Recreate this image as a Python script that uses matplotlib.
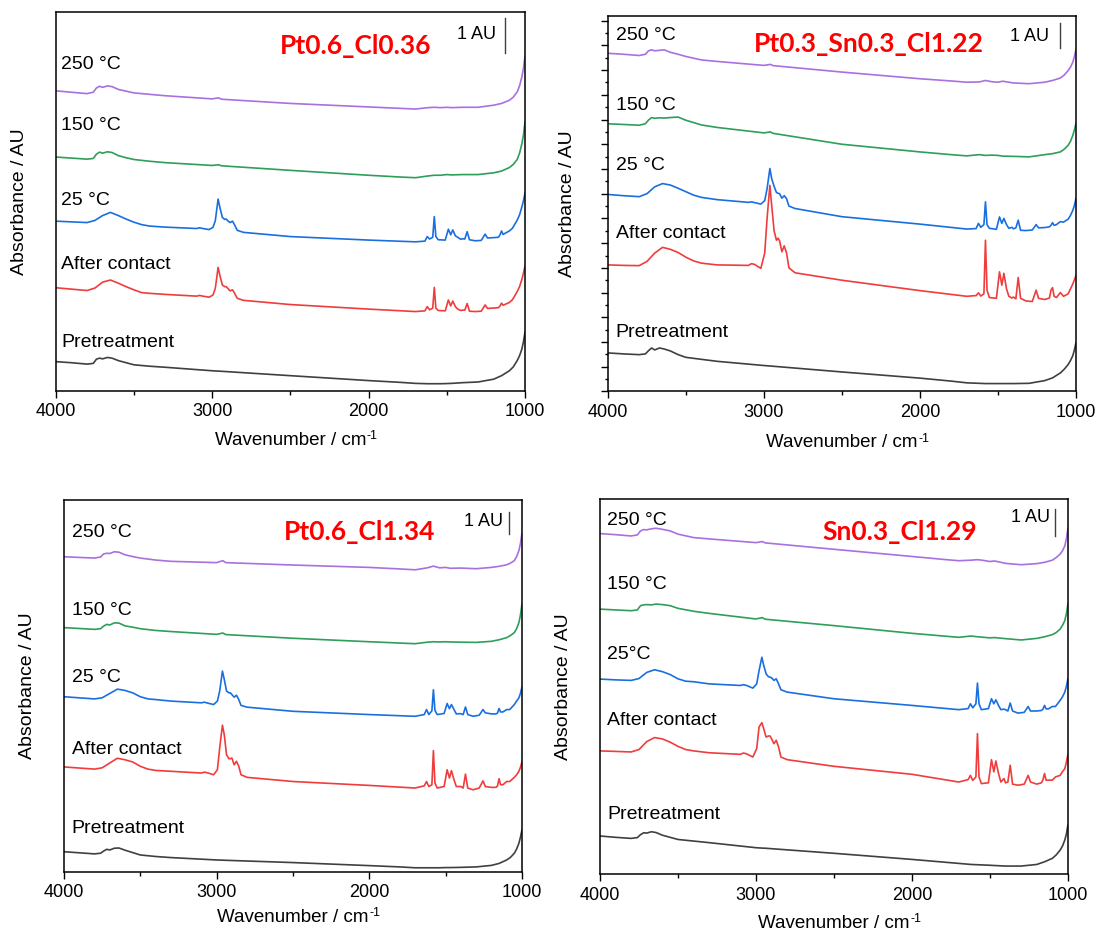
import matplotlib
matplotlib.use("Agg")
import matplotlib.pyplot as plt
from matplotlib.ticker import MultipleLocator

plt.rcParams["font.family"] = ["Liberation Sans", "DejaVu Sans"]

# wavenumber grids (cm-1)
wn_flat = [4000, 3900, 3800, 3760, 3740, 3720, 3700, 3670, 3640, 3600, 3550, 3500, 3400, 3300,
           3000, 2960, 2940, 2500, 2000, 1800, 1700, 1620, 1580, 1540, 1500, 1470, 1400, 1300,
           1200, 1150, 1100, 1075, 1050, 1035, 1020, 1010, 1000]
wn_ads = [4000, 3900, 3800, 3750, 3700, 3650, 3600, 3550, 3500, 3450, 3400, 3300, 3100, 3080,
          3060, 3020, 2995, 2980, 2962, 2950, 2935, 2920, 2910, 2900, 2885, 2870, 2855, 2840,
          2800, 2500, 2000, 1700, 1640, 1625, 1610, 1590, 1580, 1570, 1555, 1510, 1490, 1475,
          1462, 1445, 1430, 1410, 1400, 1385, 1370, 1355, 1320, 1280, 1255, 1240, 1200, 1170,
          1160, 1150, 1140, 1125, 1100, 1080, 1050, 1035, 1020, 1010, 1000]

# ---- Pt0.6_Cl0.36 ----
p1_pre = [.83, .80, .76, .78, .90, .93, .91, .95, .93, .86, .80, .74, .70, .67, .57, .56, .555, .43,
          .29, .24, .21, .20, .20, .20, .205, .21, .23, .25, .33, .43, .57, .68, .86, 1.0, 1.19, 1.40, 1.67]
p1_150 = [6.67, 6.64, 6.61, 6.63, 6.75, 6.81, 6.78, 6.82, 6.80, 6.71, 6.65, 6.60, 6.55, 6.51, 6.43,
          6.45, 6.42, 6.29, 6.15, 6.10, 6.08, 6.13, 6.15, 6.15, 6.17, 6.16, 6.17, 6.17, 6.22, 6.27,
          6.37, 6.46, 6.60, 6.78, 7.05, 7.30, 7.67]
p1_250 = [8.56, 8.52, 8.48, 8.52, 8.64, 8.69, 8.66, 8.70, 8.68, 8.60, 8.55, 8.50, 8.46, 8.42, 8.33,
          8.36, 8.32, 8.20, 8.10, 8.06, 8.04, 8.08, 8.09, 8.08, 8.09, 8.08, 8.09, 8.09, 8.15, 8.20,
          8.29, 8.38, 8.53, 8.70, 8.96, 9.20, 9.55]
p1_25 = [4.84, 4.82, 4.80, 4.86, 5.00, 5.09, 5.00, 4.90, 4.81, 4.74, 4.70, 4.67, 4.63, 4.65, 4.63,
         4.60, 4.66, 4.85, 5.47, 5.22, 4.95, 4.89, 4.90, 4.85, 4.80, 4.84, 4.72, 4.58, 4.52, 4.40,
         4.30, 4.25, 4.27, 4.40, 4.33, 4.38, 4.97, 4.40, 4.31, 4.30, 4.61, 4.45, 4.59, 4.42, 4.38,
         4.32, 4.34, 4.33, 4.54, 4.31, 4.28, 4.29, 4.47, 4.36, 4.37, 4.38, 4.45, 4.56, 4.46, 4.50,
         4.56, 4.64, 4.87, 5.02, 5.25, 5.42, 5.64]
p1_ac = [2.94, 2.90, 2.86, 2.93, 3.10, 3.16, 3.07, 2.97, 2.88, 2.80, 2.78, 2.75, 2.70, 2.72, 2.70,
         2.67, 2.73, 2.92, 3.52, 3.28, 3.02, 2.97, 2.97, 2.92, 2.85, 2.88, 2.77, 2.64, 2.58, 2.46,
         2.33, 2.26, 2.28, 2.40, 2.31, 2.36, 2.95, 2.36, 2.29, 2.28, 2.59, 2.42, 2.56, 2.40, 2.33,
         2.29, 2.30, 2.30, 2.49, 2.27, 2.26, 2.27, 2.45, 2.35, 2.36, 2.37, 2.42, 2.50, 2.44, 2.47,
         2.52, 2.60, 2.83, 2.97, 3.18, 3.36, 3.56]

# ---- Pt0.3_Sn0.3_Cl1.22 ----
p2_pre = [1.56, 1.52, 1.49, 1.52, 1.65, 1.76, 1.68, 1.76, 1.72, 1.64, 1.49, 1.38, 1.30, 1.22, 1.05,
          1.03, 1.02, .79, .54, .42, .35, .33, .32, .32, .32, .32, .32, .33, .44, .55, .75, .90,
          1.09, 1.25, 1.45, 1.68, 1.96]
p2_150 = [10.83, 10.80, 10.77, 10.83, 10.98, 11.08, 11.05, 11.07, 11.06, 11.08, 11.10, 10.97, 10.78,
          10.68, 10.46, 10.50, 10.44, 10.00, 9.69, 9.58, 9.53, 9.58, 9.55, 9.56, 9.55, 9.52, 9.51,
          9.49, 9.58, 9.62, 9.69, 9.80, 9.96, 10.12, 10.36, 10.58, 10.83]
p2_250 = [13.68, 13.64, 13.59, 13.64, 13.78, 13.82, 13.78, 13.80, 13.82, 13.72, 13.64, 13.55, 13.41,
          13.35, 13.19, 13.23, 13.18, 12.92, 12.65, 12.56, 12.51, 12.52, 12.58, 12.53, 12.51, 12.55,
          12.48, 12.45, 12.51, 12.58, 12.68, 12.80, 12.98, 13.12, 13.32, 13.55, 13.82]
p2_25 = [7.97, 7.92, 7.88, 8.00, 8.28, 8.41, 8.35, 8.22, 8.08, 7.94, 7.85, 7.76, 7.65, 7.67, 7.64,
         7.58, 7.72, 8.20, 9.02, 8.60, 8.30, 8.05, 8.02, 8.00, 7.82, 7.92, 7.80, 7.50, 7.40, 7.07,
         6.77, 6.57, 6.59, 6.80, 6.64, 6.75, 7.67, 6.75, 6.60, 6.56, 7.06, 6.80, 7.00, 6.75, 6.60,
         6.64, 6.58, 6.62, 6.93, 6.52, 6.51, 6.53, 6.75, 6.62, 6.63, 6.66, 6.72, 6.83, 6.72, 6.75,
         6.87, 6.85, 6.97, 7.12, 7.33, 7.52, 7.80]
p2_ac = [5.12, 5.10, 5.09, 5.26, 5.60, 5.83, 5.75, 5.62, 5.43, 5.28, 5.19, 5.12, 5.10, 5.17, 5.14,
         4.98, 5.60, 7.00, 8.34, 7.50, 6.50, 6.12, 6.20, 6.10, 5.65, 5.89, 5.60, 5.00, 4.80, 4.50,
         4.08, 3.85, 3.88, 3.99, 3.86, 3.95, 6.12, 4.10, 3.80, 3.77, 4.84, 4.30, 4.78, 4.15, 3.85,
         3.78, 3.82, 3.75, 4.61, 3.77, 3.66, 3.64, 4.10, 3.77, 3.72, 3.78, 4.10, 4.20, 3.85, 3.80,
         4.00, 3.85, 3.95, 4.15, 4.35, 4.52, 4.68]

# ---- Pt0.6_Cl1.34 ----
p3_pre = [.92, .87, .82, .85, .95, 1.03, 1.00, 1.08, 1.09, .99, .88, .77, .70, .65, .54, .53, .525,
          .42, .28, .22, .18, .18, .18, .18, .19, .19, .20, .22, .29, .38, .54, .66, .85, 1.04, 1.31,
          1.58, 1.92]
p3_150 = [11.23, 11.19, 11.15, 11.18, 11.30, 11.38, 11.35, 11.45, 11.44, 11.31, 11.25, 11.18, 11.10,
          11.05, 10.92, 10.98, 10.91, 10.74, 10.58, 10.52, 10.49, 10.56, 10.58, 10.57, 10.58, 10.57,
          10.56, 10.55, 10.60, 10.67, 10.77, 10.87, 11.00, 11.18, 11.46, 11.80, 12.31]
p3_250 = [14.49, 14.46, 14.43, 14.48, 14.62, 14.65, 14.64, 14.72, 14.70, 14.58, 14.50, 14.43, 14.34,
          14.28, 14.22, 14.31, 14.22, 14.11, 14.00, 13.93, 13.89, 13.98, 14.06, 13.98, 14.00, 13.96,
          13.97, 13.94, 14.00, 14.05, 14.12, 14.20, 14.31, 14.50, 14.77, 15.10, 15.57]
p3_25 = [8.05, 8.00, 7.95, 8.00, 8.20, 8.40, 8.34, 8.23, 8.05, 7.95, 7.92, 7.85, 7.77, 7.80, 7.76,
         7.69, 7.85, 8.31, 9.23, 8.85, 8.31, 8.23, 8.23, 8.15, 8.03, 8.12, 7.92, 7.65, 7.57, 7.38,
         7.23, 7.15, 7.23, 7.46, 7.23, 7.40, 8.37, 7.42, 7.23, 7.28, 7.74, 7.50, 7.69, 7.46, 7.26,
         7.27, 7.27, 7.23, 7.58, 7.23, 7.15, 7.20, 7.46, 7.31, 7.26, 7.26, 7.30, 7.51, 7.35, 7.35,
         7.46, 7.46, 7.69, 7.85, 8.00, 8.20, 8.49]
p3_ac = [4.82, 4.77, 4.72, 4.78, 5.00, 5.22, 5.15, 5.05, 4.85, 4.72, 4.66, 4.62, 4.54, 4.58, 4.55,
         4.46, 4.69, 5.69, 6.74, 6.31, 5.38, 5.20, 5.20, 5.23, 4.92, 5.08, 4.85, 4.46, 4.34, 4.15,
         3.97, 3.85, 3.95, 4.15, 3.92, 4.00, 5.57, 4.08, 3.85, 3.92, 4.69, 4.31, 4.65, 4.23, 3.92,
         3.92, 3.92, 3.85, 4.49, 3.85, 3.77, 3.85, 4.18, 3.92, 3.88, 3.88, 3.95, 4.28, 4.00, 4.00,
         4.15, 4.15, 4.34, 4.46, 4.62, 4.80, 5.05]

# ---- Sn0.3_Cl1.29 ----
p4_pre = [1.43, 1.38, 1.34, 1.37, 1.48, 1.55, 1.54, 1.59, 1.56, 1.46, 1.38, 1.30, 1.24, 1.18, .99,
          .975, .97, .78, .55, .45, .40, .36, .35, .34, .33, .32, .30, .30, .36, .46, .59, .72, .90,
          1.05, 1.28, 1.50, 1.84]
p4_150 = [9.96, 9.93, 9.90, 9.93, 10.09, 10.12, 10.13, 10.12, 10.15, 10.13, 10.09, 9.99, 9.88, 9.80,
          9.59, 9.64, 9.58, 9.34, 9.05, 8.95, 8.90, 8.95, 8.92, 8.90, 8.88, 8.89, 8.85, 8.80, 8.86,
          8.92, 9.00, 9.08, 9.21, 9.35, 9.53, 9.78, 10.15]
p4_250 = [12.80, 12.76, 12.71, 12.75, 12.90, 12.95, 12.94, 12.98, 13.00, 12.96, 12.90, 12.78, 12.65,
          12.60, 12.46, 12.50, 12.45, 12.21, 11.94, 11.83, 11.78, 11.80, 11.82, 11.79, 11.75, 11.77,
          11.68, 11.63, 11.67, 11.72, 11.80, 11.90, 12.03, 12.15, 12.34, 12.60, 13.00]
p4_25 = [7.33, 7.30, 7.28, 7.35, 7.58, 7.68, 7.61, 7.50, 7.34, 7.25, 7.23, 7.15, 7.09, 7.12, 7.09,
         6.99, 7.15, 7.65, 8.15, 7.84, 7.53, 7.42, 7.40, 7.38, 7.28, 7.34, 7.15, 6.93, 6.84, 6.59,
         6.34, 6.18, 6.22, 6.40, 6.25, 6.40, 7.18, 6.40, 6.18, 6.22, 6.59, 6.40, 6.55, 6.34, 6.18,
         6.20, 6.18, 6.13, 6.43, 6.13, 6.05, 6.08, 6.30, 6.13, 6.13, 6.15, 6.20, 6.34, 6.21, 6.21,
         6.30, 6.30, 6.53, 6.66, 6.84, 7.05, 7.34]
p4_ac = [4.63, 4.61, 4.59, 4.68, 4.98, 5.13, 5.08, 4.96, 4.80, 4.68, 4.63, 4.56, 4.50, 4.55, 4.52,
         4.40, 4.72, 5.53, 5.69, 5.46, 5.15, 5.19, 5.19, 5.09, 4.90, 5.03, 4.78, 4.40, 4.30, 4.05,
         3.75, 3.46, 3.55, 3.71, 3.52, 3.65, 5.28, 3.65, 3.40, 3.43, 4.30, 3.84, 4.25, 3.78, 3.46,
         3.59, 3.43, 3.46, 4.09, 3.38, 3.34, 3.38, 3.71, 3.46, 3.38, 3.43, 3.55, 3.78, 3.53, 3.53,
         3.53, 3.65, 3.71, 3.85, 3.96, 4.20, 4.50]

titles = ["Pt0.6_Cl0.36", "Pt0.3_Sn0.3_Cl1.22", "Pt0.6_Cl1.34", "Sn0.3_Cl1.29"]
labels = ["250 °C", "150 °C", "25 °C", "After contact", "Pretreatment"]
labels_p4 = ["250 °C", "150 °C", "25°C", "After contact", "Pretreatment"]
colors = ["#A970E0", "#2E9E5B", "#1A6FE0", "#F03C3C", "#404040"]

panels = [
    dict(rect=[0.0508, 0.5821, 0.4278, 0.4047], curves=[p1_250, p1_150, p1_25, p1_ac, p1_pre],
         ylim=10.8, lab_y=[9.3, 7.58, 5.44, 3.59, 1.38], lab_x=3964, title_xy=(0.64, 0.911),
         bar=(1125, 9.64), au_txt=(1186, 10.17), ylab_x=-0.059, xlab_y=-0.108, labels=labels, yticks=False),
    dict(rect=[0.5542, 0.5813, 0.4266, 0.4019], curves=[p2_250, p2_150, p2_25, p2_ac, p2_pre],
         ylim=15.2, lab_y=[14.4, 11.56, 9.13, 6.40, 2.40], lab_x=3951, title_xy=(0.558, 0.926),
         bar=(1103, 13.9), au_txt=(1170, 14.36), ylab_x=-0.068, xlab_y=-0.114, labels=labels, yticks=True),
    dict(rect=[0.0583, 0.0677, 0.4175, 0.3975], curves=[p3_250, p3_150, p3_25, p3_ac, p3_pre],
         ylim=17.1, lab_y=[15.6, 12.0, 8.92, 5.62, 2.0], lab_x=3950, title_xy=(0.645, 0.914),
         bar=(1083, 15.54), au_txt=(1124, 16.1), ylab_x=-0.060, xlab_y=-0.100, labels=labels, yticks=False),
    dict(rect=[0.5469, 0.0652, 0.4266, 0.4011], curves=[p4_250, p4_150, p4_25, p4_ac, p4_pre],
         ylim=14.1, lab_y=[13.3, 10.9, 8.25, 5.78, 2.25], lab_x=3952, title_xy=(0.641, 0.913),
         bar=(1083, 12.71), au_txt=(1112, 13.4), ylab_x=-0.060, xlab_y=-0.108, labels=labels_p4, yticks=False),
]

fig = plt.figure(figsize=(10.97, 9.35), dpi=100)

for i, p in enumerate(panels):
    ax = fig.add_axes(p["rect"])
    for j, (y, c) in enumerate(zip(p["curves"], colors)):
        x = wn_flat if len(y) == len(wn_flat) else wn_ads
        ax.plot(x, y, color=c, lw=1.2)
        ax.text(p["lab_x"], p["lab_y"][j], p["labels"][j], fontsize=14, ha="left", va="center")
    ax.set_xlim(4000, 1000)
    ax.set_ylim(0, p["ylim"])
    ax.xaxis.set_major_locator(MultipleLocator(1000))
    ax.xaxis.set_minor_locator(MultipleLocator(500))
    ax.tick_params(axis="x", which="major", direction="out", length=5, width=1, labelsize=13, pad=4)
    ax.tick_params(axis="x", which="minor", direction="out", length=3, width=1)
    if p["yticks"]:
        ax.yaxis.set_major_locator(MultipleLocator(1))
        ax.yaxis.set_minor_locator(MultipleLocator(0.5))
        ax.tick_params(axis="y", which="major", direction="out", length=5, width=1, labelleft=False)
        ax.tick_params(axis="y", which="minor", direction="out", length=2.5, width=1)
    else:
        ax.set_yticks([])
    for s in ax.spines.values():
        s.set_linewidth(1.1)
    xl = ax.set_xlabel("Wavenumber / cm", fontsize=13.5)
    ax.set_ylabel("Absorbance / AU", fontsize=14)
    ax.xaxis.set_label_coords(0.5, p["xlab_y"])
    ax.yaxis.set_label_coords(p["ylab_x"], 0.5)
    ax.annotate("-1", xy=(1, 1), xycoords=xl, xytext=(0.5, 1), textcoords="offset points",
                fontsize=9, ha="left", va="top")
    ax.text(p["title_xy"][0], p["title_xy"][1], titles[i], transform=ax.transAxes, ha="center",
            va="center", color="#FF0000", fontsize=19, fontweight="bold", family=["Lato", "DejaVu Sans"])
    bx, by = p["bar"]
    ax.plot([bx, bx], [by, by + 1], color="#404040", lw=1.0)
    ax.text(p["au_txt"][0], p["au_txt"][1], "1 AU", fontsize=13, ha="right", va="center")

fig.savefig("out.png", dpi=100)
